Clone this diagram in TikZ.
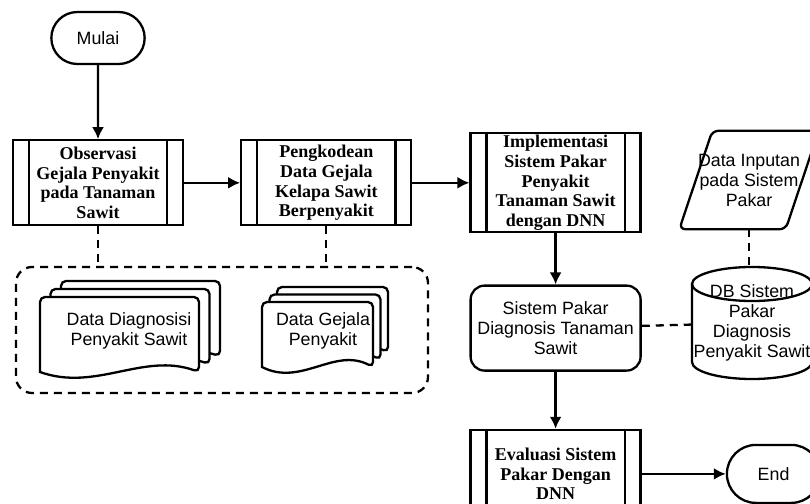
\documentclass[tikz,border=0pt]{standalone}
\usepackage{fontspec}
\setmainfont{Liberation Serif}
\setsansfont{Liberation Sans}
\usetikzlibrary{shapes,arrows,arrows.meta,positioning}
\tikzstyle{proc} = [rectangle, draw, line width=2.3pt, text centered, align=center, font=\bfseries\fontsize{18}{19.8}\selectfont, minimum width=170pt, minimum height=85pt, inner sep=0pt]
\tikzstyle{term} = [rounded rectangle, draw, line width=2.3pt, font=\sffamily\fontsize{17.8}{20}\selectfont, minimum width=100pt, minimum height=52pt]
\tikzstyle{box} = [rectangle, rounded corners=14pt, draw, line width=2.3pt, align=center, font=\sffamily\fontsize{17.8}{20}\selectfont, minimum width=170pt, minimum height=85pt, inner sep=0pt]
\tikzstyle{io} = [rectangle, align=center, font=\sffamily\fontsize{17.8}{20}\selectfont, minimum width=106pt, minimum height=98pt, inner sep=0pt]
\tikzstyle{dbase} = [rectangle, align=center, font=\sffamily\fontsize{17.8}{20}\selectfont, minimum width=120pt, minimum height=112pt, inner sep=0pt]
\tikzstyle{txt} = [align=center, font=\sffamily\fontsize{17.8}{20}\selectfont, inner sep=0pt]
\tikzstyle{group} = [rectangle, rounded corners=16pt, draw, line width=2.3pt, dash pattern=on 8pt off 6pt, minimum width=412pt, minimum height=126pt]
\tikzstyle{tedge}  = [draw, line width=2.3pt, >={Latex[length=12pt,width=12pt]}, ->]
\tikzstyle{dedge}  = [draw, line width=2.3pt, dash pattern=on 8pt off 6pt]

% one sheet with a wavy lower edge
\newcommand{\onedoc}[4]{%
  \filldraw[fill=white, line width=2.3pt] (#1,#4) [rounded corners=5pt] -- (#1,#2) -- (#3,#2) -- (#3,#4) [sharp corners]
    .. controls ({#3-0.35*(#3-#1)},{#4-20}) and ({#1+0.35*(#3-#1)},{#4+20}) .. cycle;}
% stack of three sheets, back to front
\newcommand{\multidoc}[6]{%
  \onedoc{#1+2*#5}{#2-2*#6}{#3+2*#5}{#4-2*#6}
  \onedoc{#1+#5}{#2-#6}{#3+#5}{#4-#6}
  \onedoc{#1}{#2}{#3}{#4}}

\begin{document}
\begin{tikzpicture}[x=1pt, y=-1pt]
\useasboundingbox (0,0) rectangle (810,503);
\clip (0,0) rectangle (810,503);

% main flow ==================================
\node[term] (mulai) at (98,38) {Mulai};
\node[proc, below=74pt of mulai] (obs) {Observasi\\Gejala Penyakit\\pada Tanaman\\Sawit};
\node[proc, right=56pt of obs] (kode) {Pengkodean\\Data Gejala\\Kelapa Sawit\\Berpenyakit};
\node[proc, right=57pt of kode, minimum height=99pt] (impl) {Implementasi\\Sistem Pakar\\Penyakit\\Tanaman Sawit\\dengan DNN};
\node[box, below=51pt of impl] (spk) {Sistem Pakar\\Diagnosis Tanaman\\Sawit};
\node[proc, below=57pt of spk, minimum height=88pt] (eval) {Evaluasi Sistem\\Pakar Dengan\\DNN};
\node[term, right=84pt of eval, minimum height=58pt] (selesai) {End};

% input and database
\node[io] (inp) at (749,180) {Data Inputan\\pada Sistem\\Pakar};
\draw[line width=2.3pt, rounded corners=6pt] ([xshift=-16.5pt]inp.south west) -- ([xshift=16.5pt]inp.north west)
  -- ([xshift=16.5pt]inp.north east) -- ([xshift=-16.5pt]inp.south east) -- cycle;
\draw[line width=2.3pt] (752,284) ellipse [x radius=60pt, y radius=17pt];
\draw[line width=2.3pt] (692,284) -- (692,362) arc[start angle=180, end angle=360, x radius=60pt, y radius=17pt] -- (812,284);
\node[dbase] (db) at (752,323) {DB Sistem\\Pakar\\Diagnosis\\Penyakit Sawit};

% data group
\node[group] (grp) at (222,330) {};
\multidoc{40}{297}{199}{372}{10.5}{8}
\multidoc{262}{302}{373}{367}{7.5}{7.5}
\node[txt] (diag) at (129,331) {Data Diagnosisi\\Penyakit Sawit};
\node[txt] (gejala) at (323,331) {Data Gejala\\Penyakit};

% side bars of the process boxes
\foreach \p in {obs,kode,impl,eval}{
  \draw[line width=2.3pt] ([xshift=17pt]\p.north west) -- ([xshift=17pt]\p.south west);
  \draw[line width=2.3pt] ([xshift=-17pt]\p.north east) -- ([xshift=-17pt]\p.south east);
}

% edges
\path[tedge] (mulai) edge (obs);
\path[tedge] (obs) edge (kode);
\path[tedge] (kode) edge (impl);
\path[tedge] (impl) edge (spk);
\path[tedge] (spk) edge (eval);
\path[tedge] (eval) edge (selesai);
\path[dedge] (obs) edge (obs |- grp.north);
\path[dedge] (kode) edge (kode |- grp.north);
\path[dedge] (inp.south) edge (inp.south |- db.north);
\path[dedge] (spk) edge (db);

\end{tikzpicture}
\end{document}
